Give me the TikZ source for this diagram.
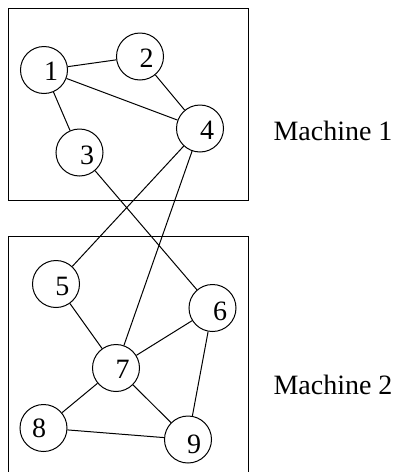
\documentclass[tikz,border=0pt]{standalone}
\usepackage{fontspec}
\setmainfont{Liberation Serif}
% vertex with its number nudged off the circle's centre
\newcommand\vtx[5]{%
  \node[vertex,label={[inner sep=0pt,xshift=#3pt,yshift=#4pt,digit]center:#5}]
    (#1) at #2 {};}
\begin{document}
\begin{tikzpicture}[x=1pt,y=-1pt,line width=1pt,
  vertex/.style={circle,draw,minimum size=47pt,inner sep=0pt},
  machine/.style={draw,line width=1pt},
  digit/.style={font=\fontsize{28}{30}\selectfont},
  caption/.style={anchor=base west,inner sep=0pt,
    font=\fontsize{28}{30}\selectfont}]
\useasboundingbox (0,0) rectangle (394,472);
\clip (0,0) rectangle (394,472);
% machine boxes
\draw[machine] (8.5,8.5) rectangle (248,200);
\draw[machine] (8.5,236) rectangle (248,480);
% vertices
\vtx{n1}{(44,70)}{7}{-1.5}{1}
\vtx{n2}{(140,56.5)}{6.5}{-2}{2}
\vtx{n3}{(79.5,152.5)}{7.5}{-3}{3}
\vtx{n4}{(200,128.5)}{7}{-1.5}{4}
\vtx{n5}{(56,284)}{6.5}{-2}{5}
\vtx{n6}{(212.5,308)}{7.5}{-3}{6}
\vtx{n7}{(116,368)}{6.5}{-1}{7}
\vtx{n8}{(43.5,428)}{-4.5}{0}{8}
\vtx{n9}{(188,439.5)}{6}{-4.5}{9}
% edges
\draw (n1) -- (n2);
\draw (n1) -- (n3);
\draw (n1) -- (n4);
\draw (n2) -- (n4);
\draw (n4) -- (n5);
\draw (n4) -- (n7);
\draw (n3) -- (n6);
\draw (n5) -- (n7);
\draw (n6) -- (n7);
\draw (n6) -- (n9);
\draw (n7) -- (n8);
\draw (n7) -- (n9);
\draw (n8) -- (n9);
% captions
\node[caption] (m1) at (273,140) {Machine 1};
\node[caption] (m2) at (273,394) {Machine 2};
\end{tikzpicture}
\end{document}
